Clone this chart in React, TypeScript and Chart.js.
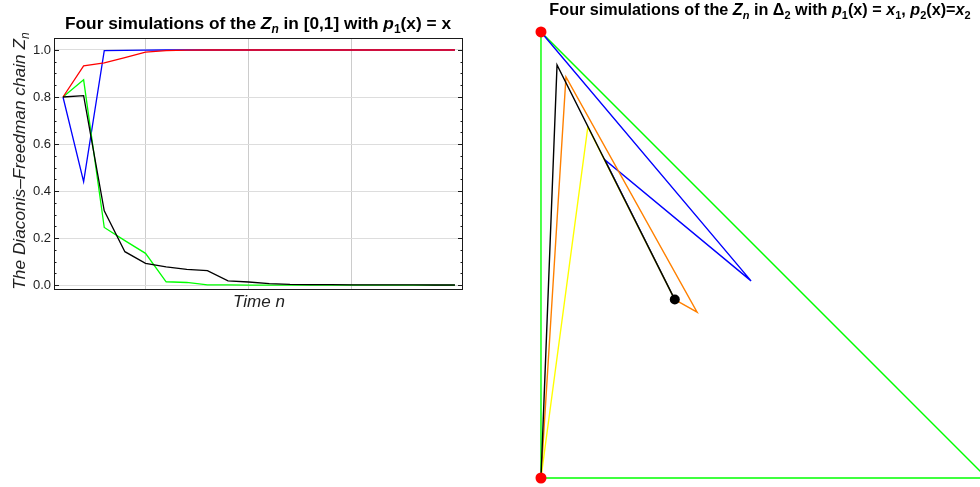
import React, { useEffect, useRef } from "react";
import { Chart, registerables } from "chart.js";
Chart.register(...registerables);

// ---------- Left chart data: time steps and four simulated chains ----------
const timeSteps = [1, 2, 3, 4, 5, 6, 7, 8, 9, 10, 11, 12, 13, 14, 15, 16, 17, 18, 19, 20];
const blueChain = [0.8, 0.44, 0.997, 0.998, 0.999, 1, 1, 1, 1, 1, 1, 1, 1, 1, 1, 1, 1, 1, 1, 1];
const greenChain = [0.8, 0.873, 0.245, 0.189, 0.135, 0.014, 0.011, 0.001, 0.0005, 0, 0, 0, 0, 0, 0, 0, 0, 0, 0, 0];
const redChain = [0.8, 0.932, 0.945, 0.968, 0.991, 0.997, 0.999, 1, 1, 1, 1, 1, 1, 1, 1, 1, 1, 1, 1, 1];
const blackChain = [0.8, 0.806, 0.316, 0.142, 0.092, 0.077, 0.067, 0.061, 0.018, 0.013, 0.006, 0.003, 0.002, 0.002, 0.001, 0.001, 0.001, 0.0005, 0.0003, 0.0002];
const yTickValues = [0, 0.2, 0.4, 0.6, 0.8, 1.0];
const xGridValues = [5, 10, 15];

// ---------- Right chart data: paths in the simplex ----------
const simplexX = [0, 1, 0, 0];
const simplexY = [0, 0, 1, 0];
const bluePathX = [0.3, 0.1435, 0.471, 0];
const bluePathY = [0.4, 0.713, 0.442, 1];
const orangePathX = [0.3, 0.35, 0.056, 0];
const orangePathY = [0.4, 0.372, 0.899, 0];
const yellowPathX = [0.3, 0.105, 0];
const yellowPathY = [0.4, 0.787, 0];
const blackPathX = [0.3, 0.036, 0];
const blackPathY = [0.4, 0.926, 0];
const startX = [0.3];
const startY = [0.4];
const vertexX = [0, 0, 1];
const vertexY = [1, 0, 0];

const FAMILY = '"Liberation Sans", Arial, Helvetica, sans-serif';
const GREEN = "#00ff00";

type Seg = { t: string; i?: boolean; sub?: boolean };

function fontFor(size: number, bold: boolean, italic?: boolean) {
  return `${italic ? "italic " : ""}${bold ? "bold " : ""}${size}px ${FAMILY}`;
}

function drawRich(ctx: CanvasRenderingContext2D, segs: Seg[], cx: number, baseline: number, size: number, bold: boolean, color: string) {
  const subSize = Math.round(size * 0.7);
  let total = 0;
  const widths = segs.map((s) => {
    ctx.font = fontFor(s.sub ? subSize : size, bold, s.i);
    const w = ctx.measureText(s.t).width;
    total += w;
    return w;
  });
  let x = cx - total / 2;
  ctx.fillStyle = color;
  ctx.textAlign = "left";
  ctx.textBaseline = "alphabetic";
  segs.forEach((s, k) => {
    ctx.font = fontFor(s.sub ? subSize : size, bold, s.i);
    ctx.fillText(s.t, x, baseline + (s.sub ? size * 0.25 : 0));
    x += widths[k];
  });
}

const pts = (xs: number[], ys: number[]) => xs.map((x, i) => ({ x, y: ys[i] }));

export default function App() {
  const leftRef = useRef<HTMLCanvasElement>(null);
  const rightRef = useRef<HTMLCanvasElement>(null);

  useEffect(() => {
    const leftDecor = {
      id: "leftDecor",
      afterDraw(chart: any) {
        const ctx: CanvasRenderingContext2D = chart.ctx;
        const a = chart.chartArea;
        const ys = chart.scales.y;
        ctx.save();
        ctx.strokeStyle = "#1a1a1a";
        ctx.lineWidth = 1;
        ctx.strokeRect(Math.round(a.left) + 0.5, Math.round(a.top) + 0.5, Math.round(a.right - a.left) - 1, Math.round(a.bottom - a.top) - 1);
        for (let k = 0; k <= 21; k++) {
          const v = k * 0.05;
          const py = Math.round(ys.getPixelForValue(v)) + 0.5;
          const major = k % 4 === 0;
          const len = major ? 5 : 2.5;
          ctx.beginPath();
          ctx.moveTo(a.left, py);
          ctx.lineTo(a.left + len, py);
          ctx.moveTo(a.right, py);
          ctx.lineTo(a.right - len, py);
          ctx.stroke();
        }
        drawRich(
          ctx,
          [
            { t: "Four simulations of the " },
            { t: "Z", i: true },
            { t: "n", i: true, sub: true },
            { t: " in [0,1] with " },
            { t: "p", i: true },
            { t: "1", sub: true },
            { t: "(x) = x" },
          ],
          258,
          29,
          17.3,
          true,
          "#000"
        );
        drawRich(ctx, [{ t: "Time ", i: true }, { t: "n", i: true }], 259, 307, 17, false, "#222");
        ctx.translate(25, 161);
        ctx.rotate(-Math.PI / 2);
        drawRich(
          ctx,
          [{ t: "The Diaconis\u2013Freedman chain ", i: true }, { t: "Z", i: true }, { t: "n", i: true, sub: true }],
          0,
          0,
          17.3,
          false,
          "#222"
        );
        ctx.restore();
      },
    };

    const mk = (vals: number[], color: string) => ({
      data: timeSteps.map((n, i) => ({ x: n, y: vals[i] })),
      borderColor: color,
      backgroundColor: color,
      borderWidth: 1.3,
      pointRadius: 0,
      tension: 0,
      fill: false,
    });

    const left = new Chart(leftRef.current!, {
      type: "line",
      data: {
        // first dataset is drawn on top
        datasets: [mk(blackChain, "#000000"), mk(redChain, "#ff0000"), mk(greenChain, GREEN), mk(blueChain, "#0000ff")],
      },
      options: {
        animation: false,
        responsive: false,
        maintainAspectRatio: false,
        layout: { autoPadding: false, padding: { top: 38, left: 0, right: 17, bottom: 197 } },
        plugins: { legend: { display: false }, tooltip: { enabled: false }, title: { display: false } },
        scales: {
          x: {
            type: "linear",
            min: 0.564,
            max: 20.39,
            ticks: { display: false },
            grid: { color: "#cccccc", drawTicks: false, lineWidth: 1 },
            border: { display: false },
            afterBuildTicks: (s: any) => {
              s.ticks = xGridValues.map((v) => ({ value: v }));
            },
            afterFit: (s: any) => {
              s.height = 0;
            },
          },
          y: {
            type: "linear",
            min: -0.021,
            max: 1.051,
            ticks: {
              padding: 3,
              color: "#222",
              font: { family: FAMILY, size: 13 },
              callback: (v: any) => Number(v).toFixed(1),
            },
            grid: { color: "#dddddd", drawTicks: false, lineWidth: 1 },
            border: { display: false },
            afterBuildTicks: (s: any) => {
              s.ticks = yTickValues.map((v) => ({ value: v }));
            },
            afterFit: (s: any) => {
              s.width = 54;
            },
          },
        },
      },
      plugins: [leftDecor],
    } as any);

    const rightDecor = {
      id: "rightDecor",
      afterDraw(chart: any) {
        const ctx: CanvasRenderingContext2D = chart.ctx;
        ctx.save();
        drawRich(
          ctx,
          [
            { t: "Four simulations of the " },
            { t: "Z", i: true },
            { t: "n", i: true, sub: true },
            { t: " in \u0394" },
            { t: "2", sub: true },
            { t: " with " },
            { t: "p", i: true },
            { t: "1", sub: true },
            { t: "(x) = " },
            { t: "x", i: true },
            { t: "1", sub: true },
            { t: ", " },
            { t: "p", i: true },
            { t: "2", sub: true },
            { t: "(x)=" },
            { t: "x", i: true },
            { t: "2", sub: true },
          ],
          270,
          15,
          16.2,
          true,
          "#000"
        );
        ctx.restore();
      },
    };

    const path = (xs: number[], ys: number[], color: string) => ({
      data: pts(xs, ys),
      showLine: true,
      borderColor: color,
      backgroundColor: color,
      borderWidth: 1.4,
      pointRadius: 0,
      tension: 0,
      fill: false,
      clip: false,
    });

    const right = new Chart(rightRef.current!, {
      type: "scatter",
      data: {
        // first dataset is drawn on top
        datasets: [
          { data: pts(vertexX, vertexY), pointRadius: 5.5, pointBackgroundColor: "#ff0000", pointBorderWidth: 0, showLine: false, clip: false },
          { data: pts(startX, startY), pointRadius: 5, pointBackgroundColor: "#000", pointBorderWidth: 0, showLine: false, clip: false },
          path(blackPathX, blackPathY, "#000000"),
          path(yellowPathX, yellowPathY, "#ffff00"),
          path(orangePathX, orangePathY, "#ff8000"),
          path(bluePathX, bluePathY, "#0000ff"),
          path(simplexX, simplexY, GREEN),
        ],
      },
      options: {
        animation: false,
        responsive: false,
        maintainAspectRatio: false,
        layout: { autoPadding: false, padding: 0 },
        plugins: { legend: { display: false }, tooltip: { enabled: false } },
        scales: {
          x: { type: "linear", display: false, min: -0.1143, max: 0.9843 },
          y: { type: "linear", display: false, min: -0.0202, max: 1.0717 },
        },
      },
      plugins: [rightDecor],
    } as any);

    return () => {
      left.destroy();
      right.destroy();
    };
  }, []);

  return (
    <div style={{ position: "fixed", left: 0, top: 0, width: 980, height: 487, background: "#fff", overflow: "hidden" }}>
      <canvas ref={leftRef} width={480} height={487} style={{ position: "absolute", left: 0, top: 0, width: 480, height: 487 }} />
      <canvas ref={rightRef} width={490} height={487} style={{ position: "absolute", left: 490, top: 0, width: 490, height: 487 }} />
    </div>
  );
}
